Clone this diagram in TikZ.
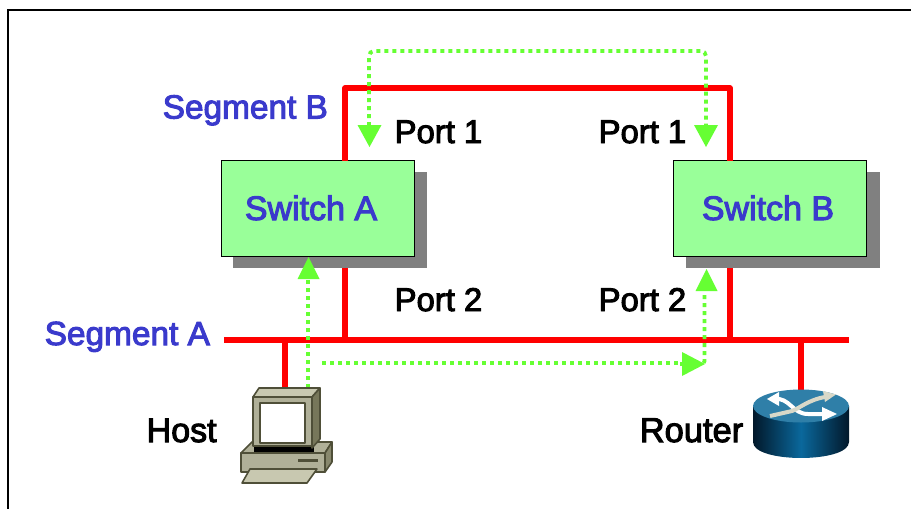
\documentclass[tikz,border=0pt]{standalone}
\usepackage{fontspec}
\setmainfont{Liberation Sans}
\newfontfamily\lblfont{Liberation Sans}[RawFeature={embolden=3}]
\definecolor{segblue}{HTML}{3A3ACC}
\definecolor{boxgreen}{HTML}{99FF99}
\definecolor{flowgreen}{HTML}{66FF33}
\definecolor{netred}{HTML}{FF0000}
\definecolor{shadowgray}{HTML}{808080}
\definecolor{pcline}{HTML}{4F4F38}
\definecolor{pclight}{HTML}{C8C8B0}
\definecolor{pcmid}{HTML}{B0B098}
\definecolor{pcdark}{HTML}{77775A}
\definecolor{rttop}{HTML}{2F7FA8}
\definecolor{rtmid}{HTML}{0A689C}
\definecolor{rtedge}{HTML}{02182A}
\tikzset{
  netline/.style={draw=netred,line width=5.5pt},
  flowline/.style={draw=flowgreen,line width=3.8pt,dash pattern=on 4pt off 4pt},
  flowhead/.style={fill=flowgreen,draw=none},
  switchbox/.style={draw=black,line width=1pt,fill=boxgreen,minimum width=193pt,minimum height=96pt,inner sep=0pt},
  shadowbox/.style={fill=shadowgray,draw=none,minimum width=194pt,minimum height=96pt,inner sep=0pt},
  seglabel/.style={text=segblue,font=\lblfont\fontsize{33.4}{36}\selectfont,anchor=base west,inner sep=0pt},
  switchlabel/.style={text=segblue,font=\lblfont\fontsize{34}{36}\selectfont,anchor=base,inner sep=0pt},
  blacklabel/.style={text=black,font=\lblfont\fontsize{32.8}{36}\selectfont,anchor=base west,inner sep=0pt},
  pcpart/.style={draw=pcline,line width=1.6pt,line join=round}
}
\begin{document}
\begin{tikzpicture}[x=1pt,y=-1pt]
\useasboundingbox (0,0) rectangle (911,509);
\fill[white] (0,0) rectangle (911,509);
% frame
\draw[black,line width=2.6pt] (8,509) -- (8,10) -- (911,10);

% named anchors
\coordinate (segAleft) at (224,340);
\coordinate (segAright) at (849,340);
\coordinate (tapA) at (345,340);
\coordinate (tapB) at (730,340);
\coordinate (tapHost) at (285,340);
\coordinate (tapRouter) at (801,340);
\coordinate (cornerAB) at (345,88);
\coordinate (cornerBB) at (730,88);
\coordinate (hostTop) at (285,390);
\coordinate (routerTop) at (801,392);
\coordinate (swAtop) at (345,161);
\coordinate (swBtop) at (730,161);
\coordinate (swAbot) at (345,268);
\coordinate (swBbot) at (730,268);

% switches
\node[shadowbox] (shA) at (330,220) {};
\node[shadowbox] (shB) at (782.5,220) {};
\node[switchbox] (swA) at (317.5,208) {};
\node[switchbox] (swB) at (770,208) {};
\node[switchlabel] (swAlabel) at (311,220) {Switch A};
\node[switchlabel] (swBlabel) at (768,220) {Switch B};

% red network
\draw[netline] (segAleft) -- (segAright);
\draw[netline,line join=round] (swAtop) -- (cornerAB) -- (cornerBB) -- (swBtop);
\draw[netline] (swAbot) -- (tapA);
\draw[netline] (swBbot) -- (tapB);
\draw[netline] (tapHost) -- (hostTop);
\draw[netline] (tapRouter) -- (routerTop);

% green flows
\coordinate (tipPort1A) at (369.5,147);
\coordinate (tipPort1B) at (706,147);
\coordinate (tipSwA) at (308.5,257);
\coordinate (tipSwB) at (706.5,269);
\coordinate (tipRight) at (705,364);
\draw[flowline,rounded corners=5pt] (369,126) -- (369,51) -- (706,51) -- (706,126);
\draw[flowline] (308,388) -- (308,279);
\draw[flowline] (322,363) -- (683,363);
\draw[flowline,rounded corners=3pt] (680,364) -- (704.5,364) -- (704.5,292);
\fill[flowhead] (tipPort1A) -- ++(-12,-22) -- ++(24,0) -- cycle;
\fill[flowhead] (tipPort1B) -- ++(-12,-22) -- ++(24,0) -- cycle;
\fill[flowhead] (tipSwA) -- ++(-11,22) -- ++(22,0) -- cycle;
\fill[flowhead] (tipSwB) -- ++(-11,22) -- ++(22,0) -- cycle;
\fill[flowhead] (tipRight) -- ++(-23,-12) -- ++(0,24) -- cycle;

% labels
\node[seglabel] (segB) at (162.5,118.5) {Segment B};
\node[seglabel] (segA) at (44.5,345) {Segment A};
\node[blacklabel] (p1a) at (394.5,143) {Port 1};
\node[blacklabel] (p1b) at (598.5,143) {Port 1};
\node[blacklabel] (p2a) at (394.5,311) {Port 2};
\node[blacklabel] (p2b) at (598.5,311) {Port 2};
\node[blacklabel,font=\lblfont\fontsize{34}{36}\selectfont] (hostlabel) at (146.5,442) {Host};
\node[blacklabel,font=\lblfont\fontsize{34.5}{36}\selectfont] (routerlabel) at (639.5,442) {Router};

% host computer
\draw[pcpart,fill=pcmid] (241,453) -- (252,442) -- (332,442) -- (325,453) -- cycle;
\draw[pcpart,fill=pcdark!70!pcmid] (325,453) -- (332,442) -- (332,462) -- (325,472) -- cycle;
\draw[pcpart,fill=pcmid] (241,453) rectangle (325,472);
\fill[black] (254,447) rectangle (314,452);
\fill[pcline] (298,459) rectangle (318,462);
\draw[pcpart,fill=pclight] (242,483) -- (250,469) -- (317,469) -- (307,483) -- cycle;
\draw[pcpart,fill=pclight] (253,397) -- (259,388) -- (320,388) -- (312,397) -- cycle;
\draw[pcpart,fill=pcdark] (312,397) -- (320,388) -- (320,439) -- (312,448) -- cycle;
\draw[pcpart,fill=pcmid] (253,397) rectangle (312,446);
\draw[pcpart,fill=white] (260,403) rectangle (305,443);

% router
\shade[left color=rtedge,right color=rtedge,middle color=rtmid]
  (753,406) -- (753,442) .. controls (753,463.3) and (849,463.3) .. (849,442) -- (849,406) -- cycle;
\fill[rttop] (801,406) ellipse[x radius=48,y radius=16.5];
\draw[white,line width=4pt] (774,399) .. controls (790,397) and (792,414) .. (808,414) -- (822,414);
\fill[white] (767,399) -- (779,392) -- (779,406) -- cycle;
\fill[white] (837,414) -- (822,407) -- (822,421) -- cycle;
\draw[pclight!70!white,line width=4pt] (770,416) -- (792,411) .. controls (800,408) and (808,400) .. (825,397);
\fill[pclight!70!white] (836,394.5) -- (823,391) -- (825,402) -- cycle;
\end{tikzpicture}
\end{document}
